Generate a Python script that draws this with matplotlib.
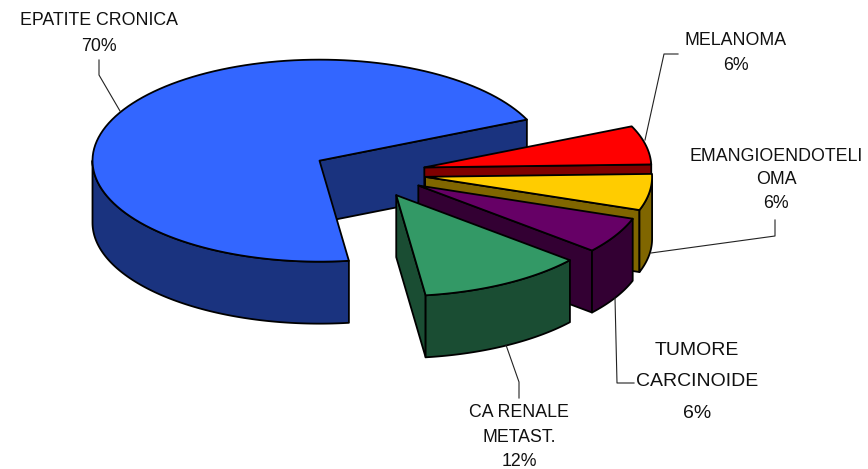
#!/usr/bin/env python3
import numpy as np
import matplotlib
matplotlib.use('Agg')
import matplotlib.pyplot as plt
from matplotlib.patches import Polygon

labels = ['EPATITE CRONICA', 'MELANOMA', 'EMANGIOENDOTELI\nOMA',
          'TUMORE\nCARCINOIDE', 'CA RENALE\nMETAST.']
# shares, the labels show them rounded
values = [70.4, 6.2, 5.8, 5.8, 11.8]
top_colors = ['#3366FF', '#FF0000', '#FFCC00', '#660066', '#339966']
side_colors = ['#1A337F', '#800000', '#806600', '#330033', '#1A4D33']

# pie geometry, in pixels of the picture
CX, CY = 369, 173
A, B = 227, 101
DEPTH = 62
EXPLODE = 0.25
START = 24

plt.rcParams['font.family'] = ['Liberation Sans', 'DejaVu Sans']

fig = plt.figure(figsize=(8.68, 4.69), dpi=100)
ax = fig.add_axes([0, 0, 1, 1])
ax.set_xlim(0, 868)
ax.set_ylim(469, 0)
ax.axis('off')


def rim(cx, cy, t0, t1):
    t = np.radians(np.linspace(t0, t1, 120))
    return np.column_stack([cx + A * np.cos(t), cy - B * np.sin(t)])


def draw_slice(lo, hi, top, side):
    mid = np.radians((lo + hi) / 2)
    cx = CX + EXPLODE * A * np.cos(mid)
    cy = CY - EXPLODE * B * np.sin(mid)
    kw = dict(closed=True, edgecolor='black', linewidth=1.3, joinstyle='round')
    drop = np.array([0, DEPTH])

    # cut wall at the low angle
    p = rim(cx, cy, lo, lo)[0]
    apex = np.array([cx, cy])
    ax.add_patch(Polygon([apex, p, p + drop, apex + drop], facecolor=side, **kw))

    # outer wall, only the front half of the rim shows
    if hi > 180:
        a0, a1 = 180, hi
    else:
        a0, a1 = lo, min(hi, 0)
    if a1 > a0:
        r = rim(cx, cy, a0, a1)
        ax.add_patch(Polygon(np.vstack([r, (r + drop)[::-1]]), facecolor=side, **kw))

    ax.add_patch(Polygon(np.vstack([[apex], rim(cx, cy, lo, hi)]), facecolor=top, **kw))


# blue goes counter clockwise from START, the others clockwise from it
spans = np.array(values) * 3.6
draw_slice(START, START + spans[0], top_colors[0], side_colors[0])
hi = START
for i in range(1, len(values)):
    draw_slice(hi - spans[i], hi, top_colors[i], side_colors[i])
    hi -= spans[i]

leaders = [
    ([99, 99, 120], [60, 75, 111]),
    ([645, 664, 678], [140, 54, 54]),
    ([651, 775, 775], [253, 236, 220]),
    ([615, 617, 634], [298, 383, 383]),
    ([506, 519, 519], [345, 382, 398]),
]
for xs, ys in leaders:
    ax.plot(xs, ys, color='#222222', lw=0.8)

text_pos = [(99, 33.5), (736, 53), (776, 180), (697, 382), (519, 437)]
text_size = [12.8, 12.8, 12.8, 14, 12.8]
text_gap = [1.65, 1.65, 1.5, 2.1, 1.55]
for name, v, (x, y), s, g in zip(labels, values, text_pos, text_size, text_gap):
    ax.text(x, y, f'{name}\n{round(v)}%', ha='center', va='center', fontsize=s,
            linespacing=g, color='#111111')

fig.savefig('out.png', dpi=100)
